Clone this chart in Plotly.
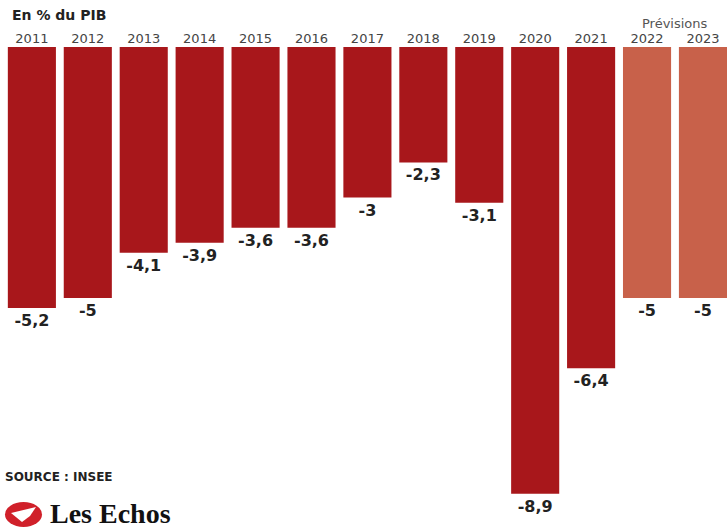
import plotly.graph_objects as go

# Solde public, en % du PIB
years = ["2011", "2012", "2013", "2014", "2015", "2016", "2017",
         "2018", "2019", "2020", "2021", "2022", "2023"]
deficit = [-5.2, -5.0, -4.1, -3.9, -3.6, -3.6, -3.0,
           -2.3, -3.1, -8.9, -6.4, -5.0, -5.0]
forecast = [False] * 11 + [True, True]

RED = "#a8171b"
ORANGE = "#c8614a"
SANS = "DejaVu Sans, sans-serif"

labels = ["<b>%s</b>" % ("%g" % v).replace(".", ",") for v in deficit]
colors = [ORANGE if f else RED for f in forecast]

W, H, TOP = 727, 530, 47


def px(xp):
    return xp / W


def py(yp):
    # paper y measured against the plot area (top margin TOP, no bottom margin)
    return (H - yp) / (H - TOP)


fig = go.Figure(go.Bar(
    x=list(range(len(years))),
    y=deficit,
    width=0.86,
    marker=dict(color=colors, line=dict(width=0)),
    text=labels,
    textposition="outside",
    textfont=dict(family=SANS, size=16, color="#222222"),
    cliponaxis=False,
    hoverinfo="skip",
))

fig.update_layout(
    width=W, height=H,
    margin=dict(l=0, r=0, t=TOP, b=0),
    paper_bgcolor="white", plot_bgcolor="white",
    showlegend=False,
    font=dict(family=SANS),
    xaxis=dict(
        range=[-0.57, 12.43], side="top",
        tickmode="array", tickvals=list(range(len(years))), ticktext=years,
        tickfont=dict(family=SANS, size=13, color="#444444"),
        showgrid=False, zeroline=False, showline=False, ticks="", ticklen=0,
        fixedrange=True,
    ),
    yaxis=dict(range=[-9.62, 0], visible=False, fixedrange=True),
)

# Titre, mention de prévision, source
fig.add_annotation(xref="paper", yref="paper", x=px(10), y=py(15),
                   yanchor="middle", xanchor="left", showarrow=False,
                   text="<b>En % du PIB</b>",
                   font=dict(family=SANS, size=14, color="#222222"))
fig.add_annotation(xref="x", yref="paper", x=11.5, y=py(24),
                   yanchor="middle", xanchor="center", showarrow=False,
                   text="Prévisions",
                   font=dict(family=SANS, size=13, color="#555555"))
fig.add_annotation(xref="paper", yref="paper", x=px(3), y=py(477),
                   yanchor="middle", xanchor="left", showarrow=False,
                   text="<b>SOURCE : INSEE</b>",
                   font=dict(family=SANS, size=12, color="#222222"))

# Logo Les Echos
fig.add_shape(type="circle", xref="paper", yref="paper",
              x0=px(5), x1=px(42), y0=py(527), y1=py(502),
              fillcolor="#d0202a", line=dict(width=0))
fig.add_shape(type="path", xref="paper", yref="paper",
              path="M %f %f L %f %f L %f %f L %f %f Z" % (px(11), py(513),
                                                        px(36), py(507),
                                                        px(30), py(516),
                                                        px(22), py(522)),
              fillcolor="white", line=dict(width=0))
fig.add_annotation(xref="paper", yref="paper", x=px(48), y=py(513),
                   yanchor="middle", xanchor="left", showarrow=False,
                   text="<b>Les Echos</b>",
                   font=dict(family="Liberation Serif, serif", size=28, color="#111111"))

fig.write_html("out.html")
